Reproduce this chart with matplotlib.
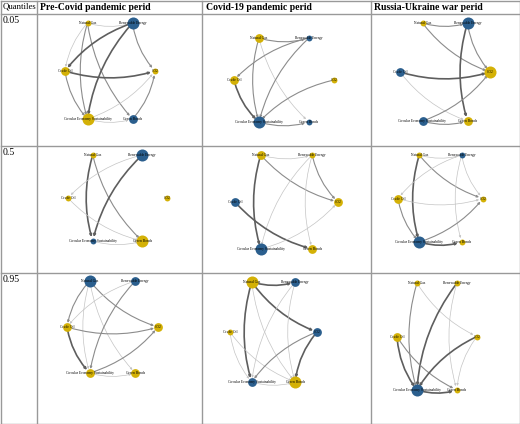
import matplotlib
matplotlib.use("Agg")
import matplotlib.pyplot as plt
from matplotlib.patches import FancyArrowPatch

periods = ["Pre-Covid pandemic perid", "Covid-19 pandemic perid", "Russia-Ukraine war perid"]
quantiles = ["0.05", "0.5", "0.95"]
nodes = ["Natural Gas", "Renewable Energy", "Crude Oil", "CO2", "Circular Economy Sustainability", "Green Bonds"]

# node colour (y/b) and size class (s/M/L) per panel, row-major
node_colors = [
    ["y", "b", "y", "y", "y", "b"], ["y", "b", "y", "y", "b", "b"], ["y", "b", "b", "y", "b", "y"],
    ["y", "b", "y", "y", "b", "y"], ["y", "y", "b", "y", "b", "y"], ["y", "b", "y", "y", "b", "y"],
    ["b", "b", "y", "y", "y", "y"], ["y", "b", "y", "b", "b", "y"], ["y", "y", "y", "y", "b", "y"],
]
node_sizes = [
    ["s", "L", "M", "s", "L", "M"], ["M", "s", "M", "s", "L", "s"], ["s", "L", "M", "L", "M", "M"],
    ["s", "L", "s", "s", "s", "L"], ["M", "s", "M", "M", "L", "M"], ["s", "s", "M", "s", "L", "s"],
    ["L", "M", "M", "M", "M", "M"], ["L", "M", "s", "M", "M", "L"], ["s", "s", "M", "s", "L", "s"],
]
# edges (from, to, strength 1-3)
edges = [
    [(0,1,1),(0,2,1),(0,4,2),(0,5,2),(1,2,3),(1,4,3),(1,3,2),(2,3,3),(2,4,2),(4,3,1),(4,5,1),(5,3,2)],
    [(0,1,2),(0,4,2),(0,5,1),(1,2,2),(1,4,2),(2,4,3),(3,4,2),(4,5,2)],
    [(0,1,2),(0,3,2),(1,3,2),(1,5,3),(2,3,3),(2,5,1),(4,3,2),(4,5,2)],
    [(0,4,3),(0,5,2),(1,2,1),(1,4,3),(2,5,1),(4,5,1)],
    [(0,1,1),(0,4,3),(0,3,2),(1,4,1),(1,3,2),(1,5,1),(2,5,3),(4,3,1)],
    [(0,1,1),(0,4,3),(0,3,2),(1,2,1),(1,3,1),(1,5,1),(2,3,1),(2,4,2),(4,3,2),(4,5,3)],
    [(0,2,2),(0,4,1),(0,5,1),(0,3,2),(1,2,1),(1,4,2),(2,3,2),(2,4,3),(4,3,2),(4,5,1)],
    [(0,1,3),(0,4,3),(0,5,1),(0,3,3),(1,4,1),(1,5,1),(2,4,1),(2,5,1),(3,4,2),(3,5,3),(4,5,1)],
    [(0,4,2),(0,3,1),(1,4,3),(1,5,1),(2,4,3),(2,5,2),(3,4,3),(3,5,1),(4,5,3)],
]
# layout: panel centre and radii in pixels
centers = [(110,71,45,48),(284,80,50,42),(445,72,45,49),
           (117.5,198,49.5,43),(286.5,202,51.5,47),(440.5,198.5,42.5,43.5),
           (112.5,327,45.5,46),(273.5,332,43.5,50),(437,336.5,40,53.5)]
hexpos = [(-0.5,-1),(0.5,-1),(-1,0),(1,0),(-0.5,1),(0.5,1)]
cmap = {"y": "#D4B106", "b": "#2B5F8E"}
smap = {"s": 18, "M": 40, "L": 75}
wmap = {1: (0.5, "#C4C4C4"), 2: (0.8, "#8C8C8C"), 3: (1.2, "#5E5E5E")}

fig = plt.figure(figsize=(5.2, 4.24), dpi=100)
ax = fig.add_axes([0, 0, 1, 1])
ax.set_xlim(0, 520); ax.set_ylim(424, 0); ax.axis("off")
serif = "Liberation Serif"

gc = "#999999"
for x in [0.5, 36.5, 202, 371, 519.5]:
    ax.plot([x, x], [0.5, 423.5], color=gc, lw=1)
for y in [0.5, 13.5, 146, 273, 423.5]:
    ax.plot([0.5, 519.5], [y, y], color=gc, lw=1)
ax.text(3, 7, "Quantiles", fontsize=6.3, family=serif, va="center")
for x, t in zip([40, 206, 374], periods):
    ax.text(x, 7, t, fontsize=7, family=serif, weight="bold", va="center")
for y, q in zip([16, 148, 275], quantiles):
    ax.text(3, y, q, fontsize=7, family=serif, va="top")

for p in range(9):
    cx, cy, rx, ry = centers[p]
    pos = [(cx + hx*rx, cy + hy*ry) for hx, hy in hexpos]
    for a, b, w in edges[p]:
        lw, col = wmap[w]
        arr = FancyArrowPatch(pos[a], pos[b], connectionstyle="arc3,rad=0.15",
                              arrowstyle="-|>", mutation_scale=3, lw=lw, color=col,
                              shrinkA=2, shrinkB=3, zorder=1)
        ax.add_patch(arr)
    for i, (x, y) in enumerate(pos):
        ax.scatter([x], [y], s=smap[node_sizes[p][i]], color=cmap[node_colors[p][i]], zorder=2, lw=0)
        ax.text(x, y, nodes[i], fontsize=2.6, family=serif, ha="center", va="center", zorder=3)

fig.savefig("out.png", dpi=100)
